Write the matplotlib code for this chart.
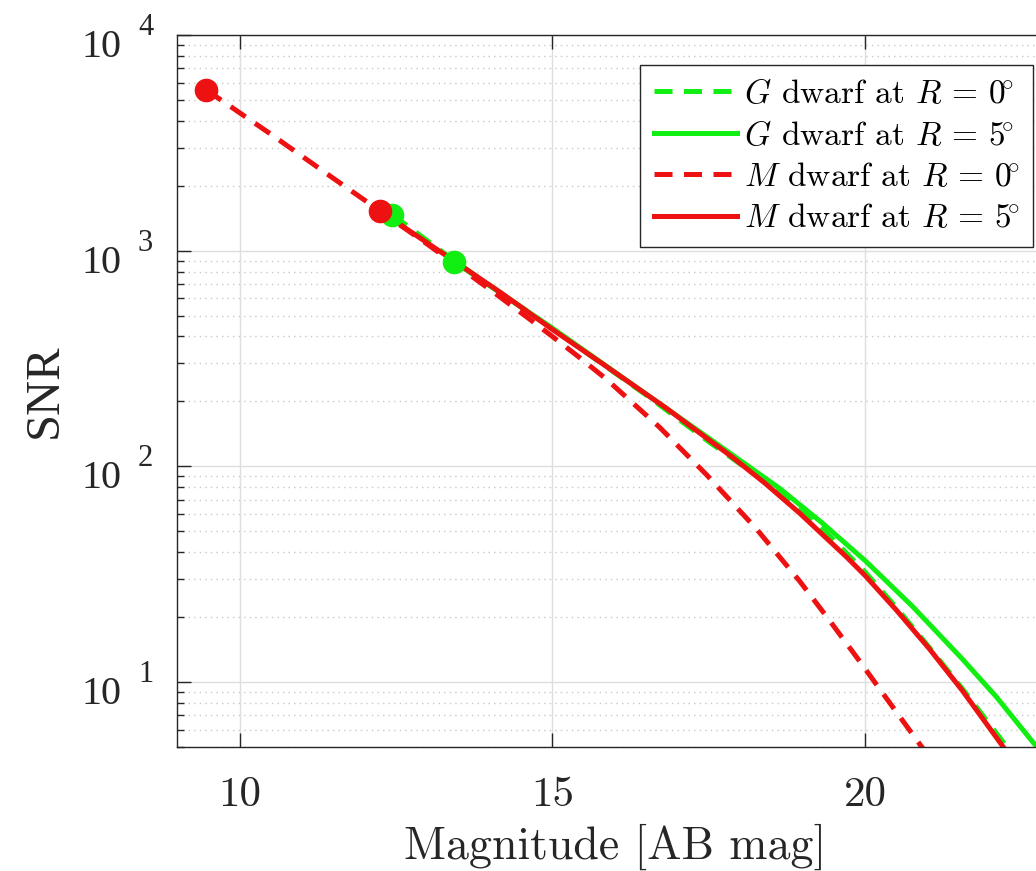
import numpy as np
import matplotlib
matplotlib.use("Agg")
import matplotlib.pyplot as plt
import matplotlib.transforms as mtransforms
from matplotlib.ticker import FixedLocator, LogLocator, NullFormatter

plt.rcParams['font.family'] = 'serif'
plt.rcParams['font.serif'] = ['cmr10']
plt.rcParams['mathtext.fontset'] = 'cm'
plt.rcParams['axes.formatter.use_mathtext'] = True

# Values (magnitude [AB mag], SNR).
mag_g0 = [12.44, 13.47, 15.0, 16.5, 17.5, 18.63, 19.3, 20.0, 20.5, 21.02, 21.55, 22.22, 22.3]
snr_g0 = [1469, 881, 435, 214, 130, 76.2, 51.9, 32.3, 22.1, 14.5, 9.33, 5.19, 4.85]

mag_g5 = [13.43, 15.0, 16.5, 17.5, 18.63, 19.31, 20.0, 20.75, 21.55, 22.09, 22.67, 22.8]
snr_g5 = [889, 437, 216, 135, 79.1, 54.7, 36.5, 22.5, 12.8, 8.57, 5.30, 4.8]

mag_m0 = [9.47, 10.5, 11.5, 12.24, 13.0, 14.0, 14.6, 15.0, 15.43, 15.86, 16.71,
          17.46, 18.26, 18.95, 19.4, 19.9, 20.4, 20.89, 20.95]
snr_m0 = [5559, 3467, 2163, 1531, 1072, 661, 490, 400, 320, 254, 152,
          91.6, 51.3, 29.4, 19.8, 12.6, 7.94, 5.06, 4.8]

mag_m5 = [12.24, 13.47, 14.2, 15.0, 15.75, 16.82, 17.88, 18.4, 18.95, 19.7, 20.0, 20.5,
          21.02, 21.55, 22.19, 22.25]
snr_m5 = [1531, 879, 631, 431, 306, 186, 110, 83.4, 60.7, 38.0, 31.1, 21.5,
          14.3, 9.14, 5.07, 4.8]

labels = [r'$G$ dwarf at $R \,=\, 0\!^{\circ}$', r'$G$ dwarf at $R \,=\, 5\!^{\circ}$',
          r'$M$ dwarf at $R \,=\, 0\!^{\circ}$', r'$M$ dwarf at $R \,=\, 5\!^{\circ}$']

yticks = [10, 100, 1000, 10000]
yexp = ['1', '2', '3', '4']

green = '#11ee11'
red = '#ee1111'

fig = plt.figure(figsize=(10.36, 8.71), dpi=100)
ax = fig.add_axes([0.1708, 0.1424, 0.8456, 0.8175])

lw = 3.6
dash = (3.6, 2.3)
ax.plot(mag_g0, snr_g0, color=green, lw=lw, dashes=dash, label=labels[0])
ax.plot(mag_g5, snr_g5, color=green, lw=lw, label=labels[1])
ax.plot(mag_m0, snr_m0, color=red, lw=lw, dashes=dash, label=labels[2])
ax.plot(mag_m5, snr_m5, color=red, lw=lw, label=labels[3])

# start points
ax.plot(mag_g0[0], snr_g0[0], 'o', color=green, ms=16)
ax.plot(mag_g5[0], snr_g5[0], 'o', color=green, ms=16)
ax.plot(mag_m0[0], snr_m0[0], 'o', color=red, ms=16)
ax.plot(mag_m5[0], snr_m5[0], 'o', color=red, ms=16)

ax.set_yscale('log')
ax.set_xlim(9, 23)
ax.set_ylim(5, 1e4)

ax.xaxis.set_major_locator(FixedLocator([10, 15, 20]))
ax.yaxis.set_major_locator(FixedLocator(yticks))
ax.yaxis.set_minor_locator(LogLocator(base=10, subs=np.arange(2, 10)))
ax.yaxis.set_minor_formatter(NullFormatter())
ax.set_yticklabels([])
ax.set_xticklabels(['10', '15', '20'], fontsize=31)

# y tick labels drawn as "10" plus a raised exponent (MATLAB look)
ytrans = ax.get_yaxis_transform()
for v, e in zip(yticks, yexp):
    t1 = mtransforms.offset_copy(ytrans, fig=fig, x=0, y=-22, units='dots')
    ax.text(-0.0628, v, '10', transform=t1, ha='right', va='baseline',
            fontsize=29, family='Liberation Serif', color='#262626', clip_on=False)
    ax.text(-0.0445, v, e, transform=ytrans, ha='left', va='baseline',
            fontsize=22, family='Liberation Serif', color='#262626', clip_on=False)

ax.tick_params(which='both', direction='in', top=True, right=True, color='#262626')
ax.tick_params(which='major', length=10, width=1)
ax.tick_params(which='minor', length=5, width=1)
ax.tick_params(axis='x', pad=21, labelcolor='#262626')

ax.grid(True, which='major', color='#dedede', lw=1, ls='-')
ax.grid(True, which='minor', axis='y', color='#c8c8c8', lw=1, ls=(0, (1, 3)))
ax.set_axisbelow(True)
for s in ax.spines.values():
    s.set_color('#262626')
    s.set_linewidth(1)

ax.set_xlabel('Magnitude [AB mag]', fontsize=33, labelpad=7, color='#262626')
ax.set_ylabel('SNR', fontsize=35, family='Liberation Serif', color='#262626')
ax.yaxis.set_label_coords(-0.1256, 0.5)

leg = ax.legend(loc='upper right', bbox_to_anchor=(0.997, 0.925), bbox_transform=fig.transFigure,
                fontsize=24, frameon=True, fancybox=False, framealpha=1, edgecolor='#262626',
                handlelength=2.5, handletextpad=0.2, labelspacing=0.36, borderpad=0.4,
                borderaxespad=0)
leg.get_frame().set_linewidth(1)

fig.savefig('out.png', dpi=100)
